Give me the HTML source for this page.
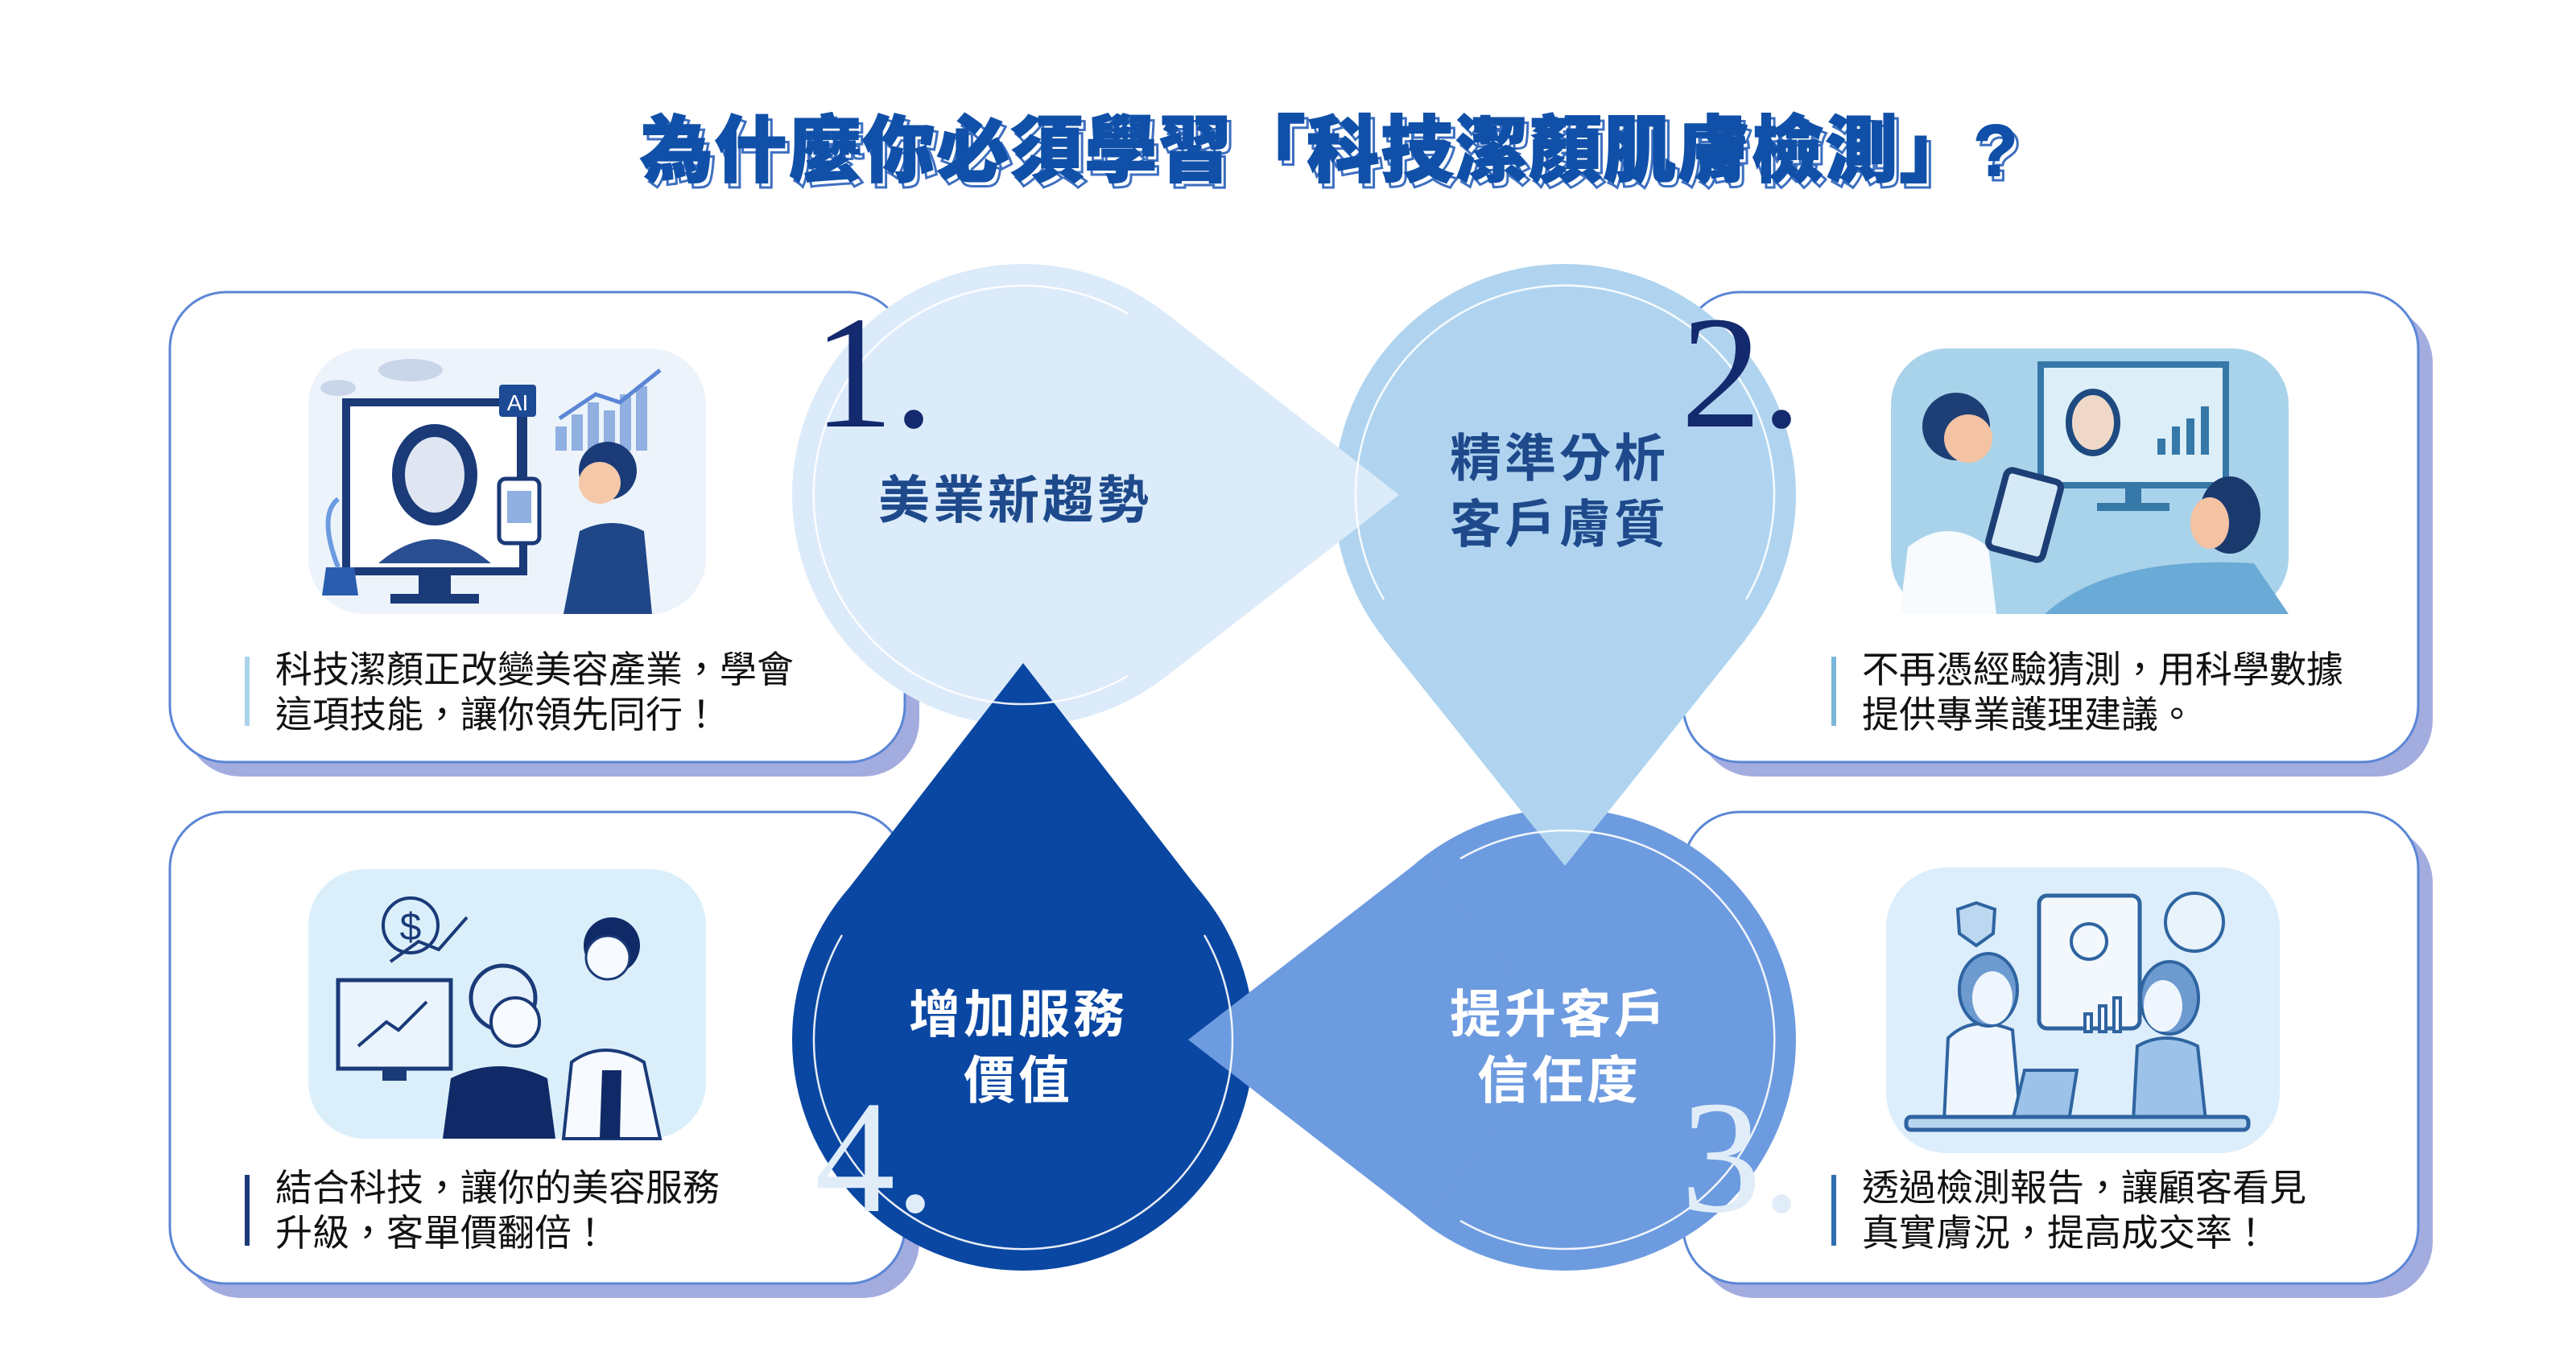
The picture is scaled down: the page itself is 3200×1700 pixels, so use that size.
<!DOCTYPE html>
<html><head><meta charset="utf-8">
<style>
html,body{margin:0;padding:0;background:#fff;}
svg{display:block;}
text{font-family:"Liberation Sans","Noto Sans CJK TC",sans-serif;}
.cn{font-family:"Liberation Sans","Noto Sans CJK TC",sans-serif;}
.num{font-family:"Liberation Serif",serif;}
</style></head>
<body>
<svg width="3200" height="1700" viewBox="0 0 3200 1700" xmlns="http://www.w3.org/2000/svg">
<rect width="3200" height="1700" fill="#fff"/>
<!-- title -->
<text x="1652" y="218" text-anchor="middle" font-size="90" font-weight="900" letter-spacing="2" fill="#fff" stroke="#3d6fc0" stroke-width="3" class="cn" transform="translate(5,6)">為什麼你必須學習「科技潔顏肌膚檢測」?</text>
<text x="1652" y="218" text-anchor="middle" font-size="90" font-weight="900" letter-spacing="2" fill="#1050a8" stroke="#1050a8" stroke-width="2" class="cn">為什麼你必須學習「科技潔顏肌膚檢測」?</text>

<!-- cards -->
<g>
<rect x="229" y="381" width="913" height="584" rx="70" fill="#a3acdf"/>
<rect x="211" y="363" width="913" height="584" rx="70" fill="#fff" stroke="#5b86d6" stroke-width="3"/>
<rect x="2109" y="381" width="913" height="584" rx="70" fill="#a3acdf"/>
<rect x="2091" y="363" width="913" height="584" rx="70" fill="#fff" stroke="#5b86d6" stroke-width="3"/>
<rect x="229" y="1027" width="913" height="586" rx="70" fill="#a3acdf"/>
<rect x="211" y="1009" width="913" height="586" rx="70" fill="#fff" stroke="#5b86d6" stroke-width="3"/>
<rect x="2109" y="1027" width="913" height="586" rx="70" fill="#a3acdf"/>
<rect x="2091" y="1009" width="913" height="586" rx="70" fill="#fff" stroke="#5b86d6" stroke-width="3"/>
</g>

<!-- illustration 1 -->
<g>
<rect x="383" y="433" width="494" height="330" rx="70" fill="#edf3fb"/>
<ellipse cx="510" cy="460" rx="40" ry="14" fill="#c9d6ea"/>
<ellipse cx="420" cy="482" rx="22" ry="10" fill="#c9d6ea"/>
<rect x="430" y="500" width="220" height="210" fill="#fff" stroke="#1a3a78" stroke-width="10"/>
<rect x="520" y="710" width="40" height="30" fill="#1a3a78"/>
<rect x="485" y="738" width="110" height="12" fill="#1a3a78"/>
<ellipse cx="540" cy="590" rx="45" ry="55" fill="#dfe6f2" stroke="#1a3a78" stroke-width="16"/>
<path d="M470 700 Q540 640 610 700 Z" fill="#2a4e92"/>
<rect x="620" y="478" width="46" height="40" rx="4" fill="#1d4a95"/>
<text x="643" y="510" text-anchor="middle" font-size="28" fill="#fff">AI</text>
<rect x="642" y="518" width="6" height="100" fill="#1a3a78"/>
<rect x="620" y="595" width="50" height="80" rx="8" fill="#fff" stroke="#1a3a78" stroke-width="5"/>
<rect x="630" y="610" width="30" height="40" fill="#8fb0e0"/>
<g fill="#8fb0e0"><rect x="690" y="530" width="14" height="30"/><rect x="710" y="515" width="14" height="45"/><rect x="730" y="500" width="14" height="60"/><rect x="750" y="510" width="14" height="50"/><rect x="770" y="490" width="14" height="70"/><rect x="790" y="480" width="14" height="80"/></g>
<polyline points="695,520 740,490 770,500 820,460" fill="none" stroke="#5b86d6" stroke-width="5"/>
<circle cx="755" cy="585" r="36" fill="#1a3a78"/>
<circle cx="745" cy="600" r="26" fill="#f4c8a8"/>
<path d="M700 763 L720 660 Q760 640 800 660 L810 763 Z" fill="#1f4788"/>
<path d="M400 740 L445 740 L440 705 L405 705 Z" fill="#2a5db0"/>
<path d="M420 705 Q395 640 420 620" fill="none" stroke="#6d9be0" stroke-width="6"/>
</g>
<!-- illustration 2 -->
<g>
<rect x="2349" y="433" width="494" height="330" rx="70" fill="#a9d3ea"/>
<rect x="2535" y="453" width="230" height="150" fill="#dceff8" stroke="#3678a8" stroke-width="8"/>
<rect x="2640" y="603" width="20" height="25" fill="#3678a8"/>
<rect x="2605" y="625" width="90" height="10" fill="#3678a8"/>
<ellipse cx="2600" cy="525" rx="30" ry="38" fill="#f0d8c8" stroke="#1d4a80" stroke-width="8"/>
<g fill="#3678a8"><rect x="2680" y="545" width="10" height="20"/><rect x="2698" y="530" width="10" height="35"/><rect x="2716" y="520" width="10" height="45"/><rect x="2734" y="505" width="10" height="60"/></g>
<path d="M2540 763 Q2620 690 2800 700 L2843 763 Z" fill="#6aaad6"/>
<ellipse cx="2770" cy="640" rx="38" ry="48" fill="#1a3a6e"/>
<ellipse cx="2745" cy="650" rx="24" ry="32" fill="#f4c3a3"/>
<path d="M2360 763 L2370 680 Q2420 640 2470 680 L2480 763 Z" fill="#f7fbfe"/>
<circle cx="2430" cy="530" r="42" fill="#1d3f75"/>
<circle cx="2445" cy="545" r="30" fill="#f4c3a3"/>
<rect x="2480" y="590" width="70" height="100" rx="8" transform="rotate(15 2515 640)" fill="#d6e9f6" stroke="#1d3f75" stroke-width="8"/>
</g>
<!-- illustration 3 (bottom right) -->
<g>
<rect x="2343" y="1078" width="489" height="355" rx="75" fill="#dcedfb"/>
<rect x="2533" y="1113" width="125" height="165" rx="10" fill="#f3f8fd" stroke="#2e64a0" stroke-width="5"/>
<circle cx="2595" cy="1170" r="22" fill="#f3f8fd" stroke="#2e64a0" stroke-width="4"/>
<g fill="#f3f8fd" stroke="#2e64a0" stroke-width="4"><rect x="2590" y="1260" width="8" height="22"/><rect x="2608" y="1250" width="8" height="32"/><rect x="2626" y="1240" width="8" height="42"/></g>
<circle cx="2726" cy="1146" r="36" fill="#e9f3fc" stroke="#2e64a0" stroke-width="4"/>
<path d="M2432 1130 L2455 1122 L2478 1130 L2476 1160 L2455 1175 L2434 1160 Z" fill="#bcd8f1" stroke="#2e64a0" stroke-width="4"/>
<path d="M2415 1393 L2420 1290 Q2450 1260 2500 1280 L2510 1393 Z" fill="#eff6fd" stroke="#2e64a0" stroke-width="4"/>
<ellipse cx="2470" cy="1230" rx="36" ry="45" fill="#6d9bd0" stroke="#2e64a0" stroke-width="4"/>
<ellipse cx="2475" cy="1240" rx="25" ry="33" fill="#eef5fd"/>
<path d="M2650 1393 L2655 1300 Q2690 1280 2730 1300 L2740 1393 Z" fill="#9cc2ea" stroke="#2e64a0" stroke-width="4"/>
<ellipse cx="2695" cy="1240" rx="36" ry="45" fill="#6d9bd0" stroke="#2e64a0" stroke-width="4"/>
<ellipse cx="2687" cy="1250" rx="24" ry="32" fill="#eef5fd"/>
<path d="M2500 1393 L2515 1330 L2580 1330 L2570 1393 Z" fill="#9cc2ea" stroke="#2e64a0" stroke-width="4"/>
<rect x="2368" y="1388" width="425" height="16" rx="6" fill="#b8d5f0" stroke="#2e64a0" stroke-width="5"/>
</g>
<!-- illustration 4 (bottom left) -->
<g>
<rect x="383" y="1080" width="494" height="335" rx="70" fill="#dbeffb"/>
<circle cx="510" cy="1150" r="34" fill="none" stroke="#1a3a78" stroke-width="4"/>
<text x="510" y="1168" text-anchor="middle" font-size="48" fill="#1a3a78">$</text>
<polyline points="485,1195 520,1170 545,1180 580,1140" fill="none" stroke="#1a3a78" stroke-width="4"/>
<rect x="420" y="1218" width="140" height="110" fill="#eaf4fc" stroke="#1a3a78" stroke-width="5"/>
<polyline points="445,1300 480,1270 495,1280 530,1245" fill="none" stroke="#1a3a78" stroke-width="4"/>
<rect x="475" y="1328" width="30" height="15" fill="#1a3a78"/>
<path d="M550 1415 L560 1340 Q620 1310 680 1340 L690 1415 Z" fill="#0f2a66"/>
<circle cx="625" cy="1240" r="40" fill="#e4f0fb" stroke="#1a3a78" stroke-width="5"/>
<circle cx="640" cy="1270" r="30" fill="#f7fbff" stroke="#1a3a78" stroke-width="4"/>
<path d="M700 1415 L710 1320 Q750 1290 800 1320 L820 1415 Z" fill="#f7fbff" stroke="#1a3a78" stroke-width="4"/>
<path d="M745 1415 L748 1330 L772 1330 L770 1415 Z" fill="#0f2a66"/>
<circle cx="760" cy="1175" r="35" fill="#0f2a66"/>
<circle cx="755" cy="1190" r="27" fill="#f7fbff" stroke="#1a3a78" stroke-width="3"/>
</g>

<!-- card texts -->
<g class="cn" font-size="46" fill="#111">
<rect x="304" y="816" width="6" height="86" fill="#a9d3ea"/>
<text x="342" y="848">科技潔顏正改變美容產業，學會</text>
<text x="342" y="904">這項技能，讓你領先同行！</text>
<rect x="2275" y="816" width="6" height="86" fill="#7ab6da"/>
<text x="2313" y="848">不再憑經驗猜測，用科學數據</text>
<text x="2313" y="904">提供專業護理建議。</text>
<rect x="304" y="1460" width="6" height="88" fill="#1a3a78"/>
<text x="342" y="1492">結合科技，讓你的美容服務</text>
<text x="342" y="1548">升級，客單價翻倍！</text>
<rect x="2275" y="1460" width="6" height="88" fill="#2e6fb0"/>
<text x="2313" y="1492">透過檢測報告，讓顧客看見</text>
<text x="2313" y="1548">真實膚況，提高成交率！</text>
</g>

<!-- teardrop circles -->
<circle cx="1271" cy="615" r="287" fill="#dcebf9"/>
<circle cx="1944" cy="615" r="287" fill="#b0d4ef"/>
<circle cx="1944" cy="1292" r="287" fill="#6d9be0"/>
<circle cx="1271" cy="1292" r="287" fill="#0a47a3"/>
<!-- tips -->
<polygon points="1271,615 1447,388 1738,615 1447,842" fill="#dcebf9"/>
<polygon points="1944,615 1719,794 1944,1076 2169,794" fill="#b0d4ef"/>
<polygon points="1944,1292 1768,1066 1476,1292 1768,1518" fill="#6d9be0"/>
<polygon points="1271,1292 1045,1116 1271,824 1497,1116" fill="#0a47a3"/>
<!-- inner arcs -->
<g fill="none" stroke="#fff" stroke-width="2.5" opacity="0.9">
<path d="M1401 840 A260 260 0 1 1 1401 390"/>
<path d="M1719 745 A260 260 0 1 1 2169 745"/>
<path d="M1814 1067 A260 260 0 1 1 1814 1517"/>
<path d="M1496 1162 A260 260 0 1 1 1046 1162"/>
</g>
<!-- numbers -->
<text x="1010" y="530" font-size="200" fill="#142a6e" class="num">1.</text>
<text x="2088" y="530" font-size="200" fill="#142a6e" class="num">2.</text>
<text x="2088" y="1505" font-size="200" fill="#e0edf9" class="num">3.</text>
<text x="1012" y="1505" font-size="200" fill="#e0edf9" class="num">4.</text>
<!-- labels -->
<g class="cn" font-size="64" font-weight="700" text-anchor="middle" letter-spacing="4">
<text x="1261" y="644" fill="#1e4a8c">美業新趨勢</text>
<text x="1937" y="592" fill="#1e4a8c">精準分析</text>
<text x="1937" y="674" fill="#1e4a8c">客戶膚質</text>
<text x="1937" y="1283" fill="#fff">提升客戶</text>
<text x="1937" y="1365" fill="#fff">信任度</text>
<text x="1265" y="1283" fill="#fff">增加服務</text>
<text x="1265" y="1365" fill="#fff">價值</text>
</g>
</svg>
</body></html>
